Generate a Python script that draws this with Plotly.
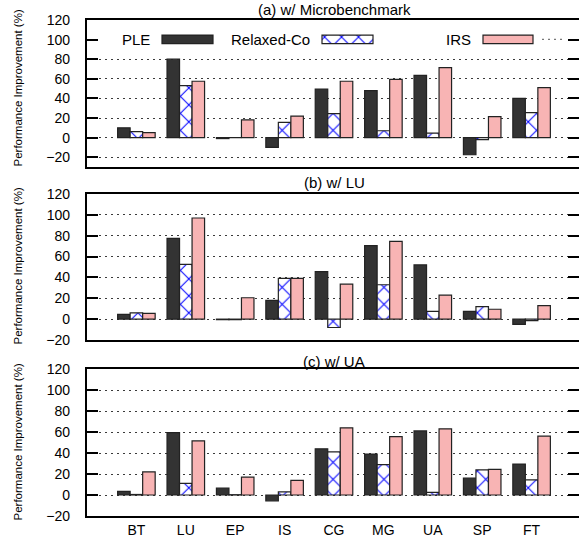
import plotly.graph_objects as go

# ---------------- data ----------------
categories = ["BT", "LU", "EP", "IS", "CG", "MG", "UA", "SP", "FT"]
series_names = ["PLE", "Relaxed-Co", "IRS"]

# (a) w/ Microbenchmark
ple_micro = [10, 80, -1, -10, 49.5, 48, 63.5, -17.5, 40]
relaxed_micro = [6, 53, 0, 15.5, 24.5, 7, 4.5, -2, 25.5]
irs_micro = [5, 57.5, 18, 22, 57.5, 59.5, 71.5, 21.5, 51]

# (b) w/ LU
ple_lu = [4.5, 77.5, -0.5, 18, 45.5, 70.5, 52, 7.5, -5]
relaxed_lu = [6, 52.5, -0.5, 39, -8, 33, 7.5, 12, -1.5]
irs_lu = [5.5, 97, 20.5, 39, 33.5, 74.5, 23, 9.5, 13]

# (c) w/ UA
ple_ua = [3.5, 59.5, 6.5, -5.5, 44, 39, 61, 16, 29.5]
relaxed_ua = [0.5, 11, 0.3, 3, 41, 29, 2.5, 24, 14.5]
irs_ua = [22, 51.5, 17, 14, 64, 55.5, 63, 24.5, 56]

panel_titles = ["(a) w/ Microbenchmark", "(b) w/ LU", "(c) w/ UA"]
ytick_vals = [-20, 0, 20, 40, 60, 80, 100, 120]
ylabel = "Performance Improvement (%)"

# ---------------- layout helpers ----------------
W, H = 579, 537
FONT = "Liberation Sans, Arial, Helvetica, sans-serif"
X_LEFT, X_RIGHT = 87, 579
SPACING = 49.4
x_range = [-1, -1 + (X_RIGHT - X_LEFT) / SPACING]

def fy(p):
    return 1 - p / H

panels = [
    dict(top=20, bottom=167, yr=[-30, 120], data=(ple_micro, relaxed_micro, irs_micro)),
    dict(top=194, bottom=340, yr=[-20, 120], data=(ple_lu, relaxed_lu, irs_lu)),
    dict(top=369, bottom=516, yr=[-20, 120], data=(ple_ua, relaxed_ua, irs_ua)),
]
title_y = [10, 183, 361]
ylabel_y = [88, 266, 442]

PLE_COLOR = "#333333"
IRS_COLOR = "#f8b4b4"
EDGE = "#222222"
relaxed_pattern = dict(shape="x", fgcolor="#0000ff", bgcolor="white", size=12, solidity=0.16, fillmode="replace")

def styles():
    return [
        dict(marker=dict(color=PLE_COLOR, line=dict(color=EDGE, width=1.2))),
        dict(marker=dict(color="white", pattern=relaxed_pattern, line=dict(color=EDGE, width=1.2))),
        dict(marker=dict(color=IRS_COLOR, line=dict(color=EDGE, width=1.2))),
    ]

fig = go.Figure()
layout = dict(
    width=W, height=H, margin=dict(l=0, r=0, t=0, b=0),
    paper_bgcolor="white", plot_bgcolor="rgba(0,0,0,0)",
    barmode="group", bargap=0.24, bargroupgap=0,
    showlegend=False, template="none",
    font=dict(family=FONT, color="black"),
)
annotations = []
shapes = []

for i, p in enumerate(panels):
    n = i + 1
    xa = "x" if n == 1 else f"x{n}"
    ya = "y" if n == 1 else f"y{n}"
    st = styles()
    for vals, name, s in zip(p["data"], series_names, st):
        fig.add_trace(go.Bar(x=categories, y=vals, name=name, xaxis=xa, yaxis=ya,
                             marker=s["marker"], hoverinfo="skip"))
    dom_y = [fy(p["bottom"]), fy(p["top"])]
    layout[f"xaxis{'' if n == 1 else n}"] = dict(
        domain=[X_LEFT / W, 1], range=x_range, anchor=ya, type="category",
        showline=True, mirror=True, linecolor="black", linewidth=2.2,
        showgrid=False, zeroline=False, ticks="",
        showticklabels=(n == 3), tickfont=dict(size=14, family=FONT),
        automargin=False,
    )
    layout[f"yaxis{'' if n == 1 else n}"] = dict(
        domain=dom_y, range=p["yr"], anchor=xa, tickvals=ytick_vals,
        ticks="inside", ticklen=11, tickwidth=2, tickcolor="black",
        showline=True, linecolor="black", linewidth=2.2, mirror=False,
        showgrid=True, gridcolor="#3a3a3a", gridwidth=1, griddash="2px,4px",
        zeroline=False, tickfont=dict(size=14, family=FONT),
        ticklabelstandoff=12, automargin=False,
    )
    # right-side mirrored ticks (no axis line)
    rn = n + 3
    layout[f"yaxis{rn}"] = dict(
        overlaying=ya, side="right", anchor=xa, range=p["yr"], tickvals=ytick_vals,
        ticks="inside", ticklen=11, tickwidth=2, tickcolor="black",
        showline=False, showgrid=False, zeroline=False, showticklabels=False,
        automargin=False,
    )
    fig.add_trace(go.Scatter(x=[categories[0]], y=[None], xaxis=xa, yaxis=f"y{rn}",
                             mode="markers", showlegend=False, hoverinfo="skip"))
    annotations.append(dict(text=panel_titles[i], xref="paper", yref="paper",
                            x=334 / W, y=fy(title_y[i]), xanchor="center", yanchor="middle",
                            showarrow=False, font=dict(size=15, family=FONT)))
    annotations.append(dict(text=ylabel, xref="paper", yref="paper", textangle=-90,
                            x=17.5 / W, y=fy(ylabel_y[i]), xanchor="center", yanchor="middle",
                            showarrow=False, font=dict(size=11.5, family=FONT)))

# white band behind legend in panel (a) (hides the 100 gridline)
shapes.append(dict(type="rect", xref="x", yref="y", x0=-1, x1=x_range[1], y0=92, y1=108,
                   fillcolor="white", line=dict(width=0), layer="between"))

# ---------------- legend in panel (a), pixel-based overlay axes ----------------
layout["xaxis7"] = dict(domain=[X_LEFT / W, 1], range=[X_LEFT, X_RIGHT], anchor="y7",
                        visible=False, fixedrange=True)
layout["yaxis7"] = dict(domain=[fy(167), fy(20)], range=[167, 20], anchor="x7",
                        visible=False, fixedrange=True)
leg_y = 39.3
leg_boxes = [(162, 51), (322, 51), (483, 50)]
leg_text_end = [152, 312, 473]
st = styles()
for (x0, w), name, s, te in zip(leg_boxes, series_names, st, leg_text_end):
    fig.add_trace(go.Bar(y=[leg_y], x=[w], base=[x0], orientation="h", width=8.5,
                         xaxis="x7", yaxis="y7", offsetgroup="legend",
                         marker=s["marker"], hoverinfo="skip", showlegend=False))
    annotations.append(dict(text=name, xref="x7", yref="y7", x=te, y=leg_y,
                            xanchor="right", yanchor="middle", showarrow=False,
                            font=dict(size=15, family=FONT)))
shapes.append(dict(type="line", xref="x7", yref="y7", x0=542, x1=564, y0=leg_y, y1=leg_y,
                   line=dict(color="#555555", width=1, dash="2px,4px")))

layout["annotations"] = annotations
layout["shapes"] = shapes
fig.update_layout(**layout)
fig.write_html("out.html",
               config={"displayModeBar": False, "staticPlot": True},
               post_script="document.body.style.margin='0';document.body.style.overflow='hidden';")
